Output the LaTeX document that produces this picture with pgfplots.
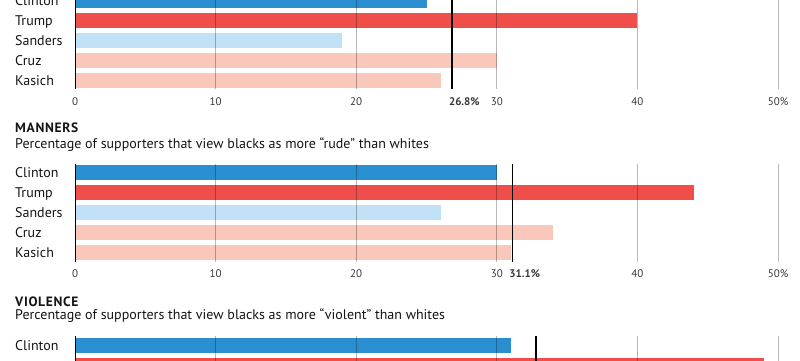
\documentclass[border=0pt]{standalone}
\usepackage{pgfplots}
\pgfplotsset{compat=1.18}
\usepackage{fontspec}
\setmainfont{PT Sans}
\definecolor{cClinton}{RGB}{42,143,209}
\definecolor{cTrump}{RGB}{239,78,74}
\definecolor{cSanders}{RGB}{192,225,246}
\definecolor{cRep}{RGB}{249,200,186}
\definecolor{txt}{RGB}{20,20,20}
\newcommand{\lab}{\fontsize{14bp}{16bp}\selectfont}
\newcommand{\tck}{\fontsize{11bp}{12bp}\selectfont}
\newcommand{\ttl}{\fontsize{13.5bp}{14bp}\selectfont\bfseries\addfontfeature{LetterSpace=5}}
\pgfplotsset{
  panel/.style={
    xbar, scale only axis, width=703bp, height=98bp,
    xmin=0, xmax=50, ymin=-0.45, ymax=4.45, y dir=reverse,
    bar width=14.5bp, bar shift=0pt,
    axis on top,
    axis line style={draw=none},
    major tick length=0,
    xmajorgrids, grid style={black, opacity=0.28, line width=0.8bp},
    xtick={0,10,20,30,40,50}, xticklabels={0,10,20,30,40,50\%},
    xticklabel style={font=\tck, text=txt!85, anchor=base, inner sep=0pt, yshift=-15.7bp},
    ytick={0,1,2,3,4}, yticklabels={Clinton,Trump,Sanders,Cruz,Kasich},
    yticklabel style={font=\lab, text=txt, anchor=base west, inner sep=0pt, xshift=-60bp, yshift=-5bp},
    /pgf/number format/assume math mode=true,
    every axis plot/.append style={draw=none},
    extra tick style={grid style={black, opacity=1, line width=1.4bp},
      xticklabel style={anchor=base west, xshift=-3bp, font=\tck\bfseries}},
    anchor=north west,
  },
}
\begin{document}
\begin{tikzpicture}[x=1bp,y=1bp]
\useasboundingbox (0,0) rectangle (800,-360);
\clip (0,0) rectangle (800,-360);
% ---- top panel ----
\begin{axis}[panel, at={(75bp,8.7bp)},
  extra x ticks={26.8}, extra x tick labels={26.8\%}]
\addplot[fill=cClinton] coordinates {(25,0)};
\addplot[fill=cTrump] coordinates {(40,1)};
\addplot[fill=cSanders] coordinates {(19,2)};
\addplot[fill=cRep] coordinates {(30,3)};
\addplot[fill=cRep] coordinates {(26,4)};
\draw[black, line width=1bp] (rel axis cs:0,0) -- (rel axis cs:0,1);
\end{axis}
% ---- middle panel ----
\node[anchor=base west, inner sep=0pt, font=\ttl, text=txt] at (15,-132.7) {MANNERS};
\node[anchor=base west, inner sep=0pt, font=\lab, text=txt] at (15,-148.3) {Percentage of supporters that view blacks as more “rude” than whites};
\begin{axis}[panel, at={(75bp,-163.5bp)},
  extra x ticks={31.1}, extra x tick labels={31.1\%}]
\addplot[fill=cClinton] coordinates {(30,0)};
\addplot[fill=cTrump] coordinates {(44,1)};
\addplot[fill=cSanders] coordinates {(26,2)};
\addplot[fill=cRep] coordinates {(34,3)};
\addplot[fill=cRep] coordinates {(31,4)};
\draw[black, line width=1bp] (rel axis cs:0,0) -- (rel axis cs:0,1);
\end{axis}
% ---- bottom panel (cut off by the picture's lower edge) ----
\node[anchor=base west, inner sep=0pt, font=\ttl, text=txt] at (15,-306) {VIOLENCE};
\node[anchor=base west, inner sep=0pt, font=\lab, text=txt] at (15,-319.5) {Percentage of supporters that view blacks as more “violent” than whites};
\begin{axis}[panel, at={(75bp,-336.3bp)},
  yticklabels={Clinton,{},{},{},{}}, xticklabels={},
  extra x ticks={32.8}, extra x tick labels={}]
\addplot[fill=cClinton] coordinates {(31,0)};
\addplot[fill=cTrump] coordinates {(49,1)};
\draw[black, line width=1bp] (rel axis cs:0,0) -- (rel axis cs:0,1);
\end{axis}
\end{tikzpicture}
\end{document}
